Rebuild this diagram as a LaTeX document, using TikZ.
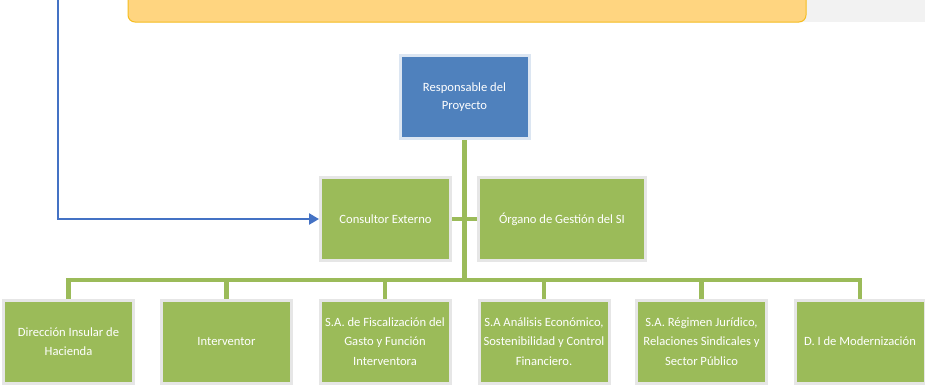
\documentclass[tikz,border=0pt]{standalone}
\usepackage{fontspec}
\setmainfont{Carlito}
\usetikzlibrary{arrows.meta}
\definecolor{gboxc}{HTML}{9BBB59}
\definecolor{bboxc}{HTML}{4F81BD}
\definecolor{blinec}{HTML}{4472C4}
\definecolor{yboxc}{HTML}{FFD580}
\definecolor{yedgec}{HTML}{F5BD1F}
\definecolor{haloc}{HTML}{E6E6E6}
\begin{document}
\begin{tikzpicture}[x=1pt,y=-1pt,
  gbox/.style={draw=haloc, line width=3pt, fill=gboxc, text=white,
    font=\fontsize{12.6}{19.5}\selectfont, align=center, inner sep=0pt,
    minimum width=130pt, minimum height=83pt},
  bbox/.style={gbox, fill=bboxc, draw=bboxc!20, font=\fontsize{12.6}{18}\selectfont},
  gline/.style={draw=gboxc, line width=4.5pt},
  bline/.style={draw=blinec, line width=2.8pt, -{Triangle[length=10pt,width=11pt]}}]
\clip (0,0) rectangle (925,386);
\useasboundingbox (0,0) rectangle (925,386);
\fill[white] (0,0) rectangle (925,386);
% top banner
\fill[black!5] (790,0) rectangle (925,22);
\draw[yedgec, line width=1pt, fill=yboxc, rounded corners=7pt] (128,-20) rectangle (806,22);
% nodes
\node[bbox, minimum width=129pt, minimum height=83pt] (resp) at (464.5,97) {Responsable del\\Proyecto};
\node[gbox] (cons) at (385.5,219) {Consultor Externo};
\node[gbox, minimum width=167pt] (org) at (562,219) {Órgano de Gestión del SI};
\node[gbox] (b1) at (68.5,341.5) {Dirección Insular de\\Hacienda};
\node[gbox] (b2) at (226.5,341.5) {Interventor};
\node[gbox] (b3) at (385,341.5) {S.A. de Fiscalización del\\Gasto y Función\\Interventora};
\node[gbox] (b4) at (544,341.5) {S.A Análisis Económico,\\Sostenibilidad y Control\\Financiero.};
\node[gbox] (b5) at (701.5,341.5) {S.A. Régimen Jurídico,\\Relaciones Sindicales y\\Sector Público};
\node[gbox] (b6) at (860,341.5) {D. I de Modernización};
\coordinate (bus) at (464.5,280);
\coordinate (bstart) at (58,-5);
% connectors
\draw[gline] (resp.south) -- (bus);
\draw[gline] (cons.east) -- (org.west);
\draw[gline] (b1.north) |- (bus) -| (b6.north);
\foreach \n in {b2,b3,b4,b5} \draw[gline] (\n.north) -- (\n.north |- bus);
\draw[bline] (bstart) |- (cons.west);
\end{tikzpicture}
\end{document}
